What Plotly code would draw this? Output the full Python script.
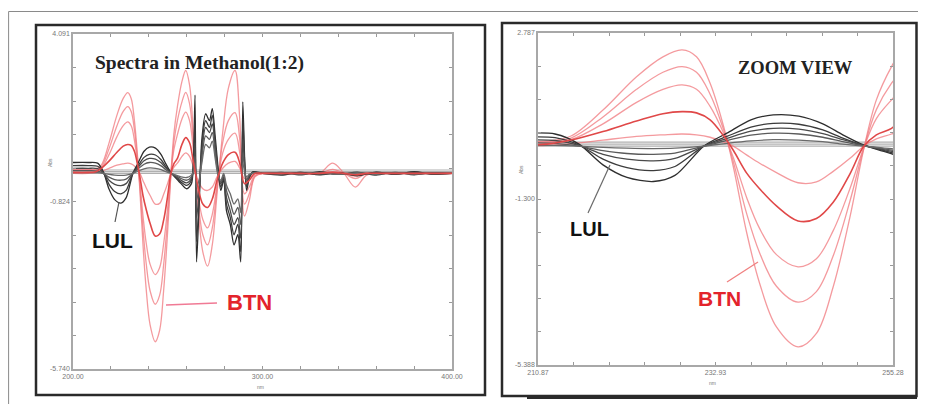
import numpy as np
import plotly.graph_objects as go

# ---------------- data ----------------
RED_X = [200, 208, 212, 215, 219, 223.2, 226.5, 228.9, 230.7, 232.4, 234.1, 235.3, 237.0, 238.6, 240.7,
         243.4, 245.7, 247.8, 249.9, 251.6, 253.2, 255.1, 257.5, 259.5, 261.5, 263.5, 266, 268.5, 271, 273.5,
         276, 279, 282, 285.5, 288, 290.5, 293, 296, 300, 320, 330, 337, 343, 349, 355, 365, 400]

BTN_1 = [0.12, 0.12, 0.13, 0.25, 0.89, 1.71, 2.2, 2.37, 2.2, 1.55, 0.48, -0.5, -2.15, -3.38, -4.45,
         -4.94, -4.61, -3.46, -1.74, -0.09, 1.14, 1.96, 2.7, 3.02, 2.6, 1.2, -1.0, -2.3, -2.72, -2.1,
         -0.6, 1.2, 2.5, 3.02, 1.6, -1.25, -0.8, -0.1, 0.0, 0.0, 0.0, 0.3, 0.0, -0.4, -0.05, 0.0, 0.0]
BTN_2 = [0.1, 0.1, 0.11, 0.2, 0.72, 1.4, 1.82, 1.96, 1.82, 1.28, 0.4, -0.38, -1.68, -2.63, -3.45,
         -3.84, -3.58, -2.7, -1.35, -0.07, 0.9, 1.55, 2.1, 2.38, 2.05, 0.95, -0.8, -1.8, -2.1, -1.6,
         -0.45, 0.9, 1.55, 1.78, 1.0, -0.9, -0.6, -0.08, 0.0, 0.0, 0.0, 0.12, 0.0, -0.15, 0.0, 0.0, 0.0]
BTN_3 = [0.08, 0.08, 0.09, 0.16, 0.55, 1.08, 1.4, 1.51, 1.4, 0.98, 0.32, -0.28, -1.28, -2.03, -2.67,
         -2.97, -2.77, -2.08, -1.04, -0.05, 0.68, 1.14, 1.6, 1.8, 1.55, 0.7, -0.6, -1.35, -1.6, -1.2,
         -0.35, 0.6, 1.0, 1.18, 0.6, -0.6, -0.4, -0.05, 0.0, 0.0, 0.0, 0.05, 0.0, -0.08, 0.0, 0.0, 0.0]
BTN_4 = [0.03, 0.03, 0.05, 0.15, 0.36, 0.62, 0.8, 0.85, 0.82, 0.65, 0.25, -0.1, -0.67, -1.05, -1.47,
         -1.84, -1.78, -1.38, -0.68, -0.01, 0.28, 0.44, 0.85, 1.05, 0.9, 0.35, -0.4, -0.9, -1.0, -0.75,
         -0.2, 0.3, 0.55, 0.62, 0.3, -0.3, -0.2, 0.0, 0.0, 0.0, 0.0, 0.03, 0.0, -0.04, 0.0, 0.0, 0.0]
BTN_5 = [0.0, 0.0, 0.02, 0.06, 0.15, 0.24, 0.28, 0.3, 0.28, 0.22, 0.1, 0.0, -0.22, -0.42, -0.65,
         -0.9, -0.88, -0.62, -0.3, 0.0, 0.18, 0.3, 0.5, 0.6, 0.5, 0.2, -0.2, -0.45, -0.5, -0.4,
         -0.1, 0.15, 0.3, 0.35, 0.15, -0.15, -0.1, 0.0, 0.0, 0.0, 0.0, 0.0, 0.0, 0.0, 0.0, 0.0, 0.0]

BLACK_X = [200, 208, 213, 216, 219, 222, 225.3, 228, 231.6, 234.5, 237.5, 240.3, 243.5, 246.5, 249,
           251.6, 254, 257, 260, 262.5, 263.6, 264.4, 265.2, 266.5, 268, 270, 272, 273.5, 275, 276.5,
           278, 279.5, 281, 283, 285, 287, 288.5, 289.6, 290.6, 291.6, 293, 295, 300, 310, 320,
           330, 340, 350, 360, 370, 380, 390, 400]

LUL_1 = [0.32, 0.32, 0.3, 0.05, -0.46, -0.77, -0.87, -0.72, 0.0, 0.32, 0.65, 0.77, 0.74, 0.55, 0.28,
         0.03, -0.12, -0.3, -0.45, -0.3, 0.5, 2.3, -2.6, -1.0, 1.0, 1.75, 1.55, 1.9, 1.1, 0.2,
         -0.5, -0.2, -1.1, -1.5, -2.1, -1.8, -2.6, 2.1, 0.4, -0.5, -0.15, 0.05, 0.0, -0.05, 0.03,
         -0.04, 0.02, -0.07, 0.04, -0.03, 0.05, -0.03, 0.0]
LUL_2 = [0.23, 0.23, 0.21, 0.03, -0.32, -0.53, -0.6, -0.5, 0.0, 0.24, 0.47, 0.56, 0.54, 0.4, 0.2,
         0.02, -0.1, -0.25, -0.35, -0.2, 0.3, 1.5, -2.0, -0.8, 0.8, 1.55, 1.35, 1.7, 0.9, 0.1,
         -0.4, -0.15, -0.9, -1.3, -1.8, -1.5, -2.3, 1.6, 0.3, -0.4, -0.1, 0.03, 0.0, 0.03, -0.04,
         0.05, -0.03, 0.04, -0.05, 0.03, -0.04, 0.02, 0.0]
LUL_3 = [0.15, 0.15, 0.14, 0.02, -0.2, -0.32, -0.36, -0.3, 0.0, 0.19, 0.37, 0.44, 0.42, 0.31, 0.16,
         0.02, -0.08, -0.2, -0.28, -0.15, 0.2, 0.9, -1.3, -0.6, 0.6, 1.35, 1.2, 1.45, 0.8, 0.05,
         -0.3, -0.1, -0.7, -1.1, -1.5, -1.3, -1.9, 1.0, 0.2, -0.3, -0.08, 0.02, 0.0, -0.02, 0.03,
         -0.03, 0.02, -0.04, 0.03, -0.02, 0.03, -0.02, 0.0]
LUL_4 = [0.08, 0.08, 0.07, 0.0, -0.11, -0.18, -0.2, -0.17, 0.0, 0.14, 0.27, 0.32, 0.3, 0.22, 0.11,
         0.01, -0.06, -0.15, -0.2, -0.1, 0.1, 0.5, -0.8, -0.4, 0.45, 1.1, 1.0, 1.2, 0.6, 0.0,
         -0.25, -0.05, -0.5, -0.85, -1.2, -1.0, -1.5, 0.6, 0.1, -0.2, -0.05, 0.02, 0.0, 0.02, -0.02,
         0.02, -0.03, 0.02, -0.02, 0.02, -0.02, 0.01, 0.0]
LUL_5 = [0.02, 0.02, 0.02, 0.0, -0.03, -0.05, -0.06, -0.05, 0.0, 0.07, 0.13, 0.16, 0.15, 0.11, 0.05,
         0.0, -0.04, -0.1, -0.12, -0.05, 0.05, 0.3, -0.4, -0.2, 0.3, 0.85, 0.75, 0.95, 0.45, -0.05,
         -0.2, 0.0, -0.35, -0.6, -0.9, -0.75, -1.15, 0.3, 0.05, -0.1, -0.03, 0.01, 0.0, 0.01, -0.01,
         0.01, -0.02, 0.01, -0.01, 0.01, -0.01, 0.01, 0.0]

FLAT_X = [200, 400]
FLAT_1 = [0.1, 0.1]
FLAT_2 = [0.05, 0.05]
FLAT_3 = [0.0, 0.0]

LEFT_X_RANGE = [200.0, 400.0]
LEFT_Y_RANGE = [-5.740, 4.091]
LEFT_X_LABELS = ["200.00", "300.00", "400.00"]
LEFT_Y_LABELS = ["-5.740", "-0.824", "4.091"]
RIGHT_X_RANGE = [210.87, 255.28]
RIGHT_Y_RANGE = [-5.388, 2.787]
RIGHT_X_LABELS = ["210.87", "232.93", "255.28"]
RIGHT_Y_LABELS = ["-5.388", "-1.300", "2.787"]

# ---------------- figure ----------------
# the page body has an 8px margin; the figure is sized to fit the window without overflow
OFF = 8
W, H = 910, 396
def px(x): return (x - OFF) / W
def py(y): return 1 - (y - OFF) / H

fig = go.Figure()

gray_sets = [(FLAT_X, FLAT_1), (FLAT_X, FLAT_2), (FLAT_X, FLAT_3)]
red_light = [BTN_1, BTN_2, BTN_3, BTN_5]
black_sets = [LUL_1, LUL_2, LUL_3, LUL_4, LUL_5]
black_cols = ["#2e2e2e", "#3c3c3c", "#4a4a4a", "#5a5a5a", "#6a6a6a"]

for xa, ya in [("x", "y"), ("x2", "y2")]:
    for gx, gy in gray_sets:
        fig.add_trace(go.Scatter(x=gx, y=gy, mode="lines", xaxis=xa, yaxis=ya,
                                 line=dict(color="#b0b0b0", width=1.2), hoverinfo="skip"))
    for ys in red_light:
        fig.add_trace(go.Scatter(x=RED_X, y=ys, mode="lines", xaxis=xa, yaxis=ya,
                                 line=dict(color="rgba(240,120,125,0.75)", width=1.3, shape="spline", smoothing=1.0),
                                 hoverinfo="skip"))
    for ys, c in zip(black_sets, black_cols):
        fig.add_trace(go.Scatter(x=BLACK_X, y=ys, mode="lines", xaxis=xa, yaxis=ya,
                                 line=dict(color=c, width=1.3, shape="spline", smoothing=0.8),
                                 hoverinfo="skip"))
    fig.add_trace(go.Scatter(x=RED_X, y=BTN_4, mode="lines", xaxis=xa, yaxis=ya,
                             line=dict(color="#e04848", width=1.6, shape="spline", smoothing=1.0),
                             hoverinfo="skip"))

def axis_ticks(rng, labels):
    vals = list(np.linspace(rng[0], rng[1], 11))
    text = [""] * 11
    text[0], text[5], text[10] = labels[0], labels[1], labels[2]
    return vals, text

ax_common = dict(showgrid=False, zeroline=False, showline=True, linecolor="#a8a8a8", linewidth=1.5,
                 mirror="ticks", ticks="inside", ticklen=3, tickwidth=1, tickcolor="#999",
                 automargin=False,
                 tickfont=dict(size=7, color="#777", family="Liberation Sans"))

lxv, lxt = axis_ticks(LEFT_X_RANGE, LEFT_X_LABELS)
lyv, lyt = axis_ticks(LEFT_Y_RANGE, LEFT_Y_LABELS)
rxv, rxt = axis_ticks(RIGHT_X_RANGE, RIGHT_X_LABELS)
ryv, ryt = axis_ticks(RIGHT_Y_RANGE, RIGHT_Y_LABELS)

fig.update_layout(
    template="none",
    width=W, height=H, margin=dict(l=0, r=0, t=0, b=0, pad=0, autoexpand=False),
    paper_bgcolor="white", plot_bgcolor="white", showlegend=False,
    xaxis=dict(domain=[px(73), px(452)], range=LEFT_X_RANGE, anchor="y",
               tickvals=lxv, ticktext=lxt, **ax_common),
    yaxis=dict(domain=[py(369), py(34)], range=LEFT_Y_RANGE, anchor="x",
               tickvals=lyv, ticktext=lyt, **ax_common),
    xaxis2=dict(domain=[px(538), px(893)], range=RIGHT_X_RANGE, anchor="y2",
                tickvals=rxv, ticktext=rxt, **ax_common),
    yaxis2=dict(domain=[py(365), py(33)], range=RIGHT_Y_RANGE, anchor="x2",
                tickvals=ryv, ticktext=ryt, **ax_common),
)

shapes = []
def line(x0, y0, x1, y1, color, width):
    shapes.append(dict(type="line", xref="paper", yref="paper", x0=px(x0), y0=py(y0),
                       x1=px(x1), y1=py(y1), line=dict(color=color, width=width)))

# outer frame
line(8.6, 11.5, 926, 11.5, "#8a8a8a", 1)
line(8.6, 11.5, 8.6, 412, "#8a8a8a", 1)
# panel boxes
for (x0, y0, x1, y1) in [(36, 25, 485, 395), (502, 23, 916.5, 396)]:
    shapes.append(dict(type="rect", xref="paper", yref="paper", x0=px(x0), y0=py(y1), x1=px(x1), y1=py(y0),
                       line=dict(color="#2a2a2a", width=2.5)))
line(527, 397.5, 917, 397.5, "#2a2a2a", 3)
# pointer lines
line(115, 222, 119, 202, "#555555", 1.2)
line(166, 305, 217, 303, "#f07a95", 1.6)
line(588, 213, 610, 165, "#6a6a6a", 1.2)
line(727, 282, 758, 262, "#f08080", 1.3)
fig.update_layout(shapes=shapes)

ann = []
def text(x, y, t, size, color, family, anchor="left", angle=0):
    ann.append(dict(x=px(x), y=py(y), xref="paper", yref="paper", text=t, showarrow=False,
                    xanchor=anchor, yanchor="middle", textangle=angle,
                    font=dict(size=size, color=color, family=family)))

text(93, 63, "<b>Spectra in Methanol(1:2)</b>", 19.5, "#222", "Liberation Serif")
text(90, 240, "<b>LUL</b>", 21, "#111", "Liberation Sans")
text(225, 302, "<b>BTN</b>", 22, "#e3232b", "Liberation Sans")
text(736, 68, "<b>ZOOM VIEW</b>", 18.5, "#222", "Liberation Serif")
text(568, 229, "<b>LUL</b>", 20, "#111", "Liberation Sans")
text(696, 298, "<b>BTN</b>", 21, "#e3232b", "Liberation Sans")
# axis titles
text(50, 163, "Abs", 5, "#777", "Liberation Sans", anchor="center", angle=-90)
text(521, 170, "Abs", 5, "#777", "Liberation Sans", anchor="center", angle=-90)
text(260, 387, "nm", 5, "#777", "Liberation Sans", anchor="center")
text(712, 383, "nm", 5, "#777", "Liberation Sans", anchor="center")
fig.update_layout(annotations=ann)

fig.write_html("out.html")
